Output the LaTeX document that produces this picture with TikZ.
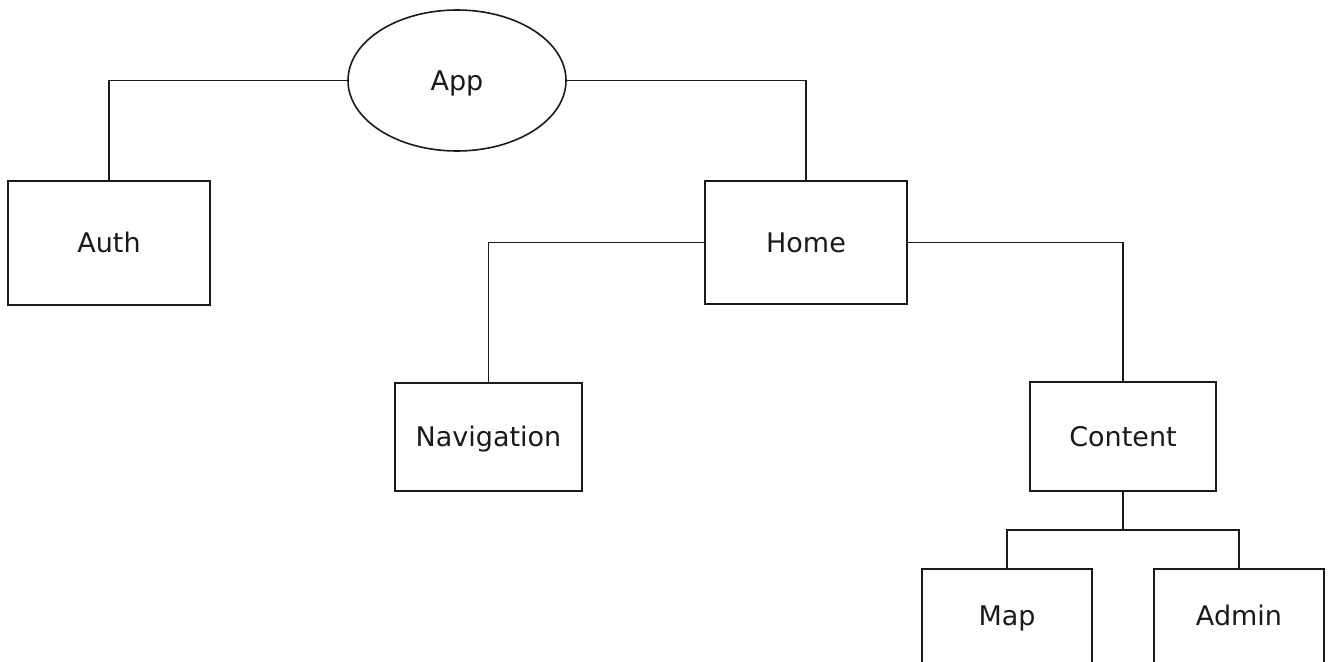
\documentclass[tikz,border=0pt]{standalone}
\usepackage{fontspec}
\setmainfont{DejaVu Sans}
\usetikzlibrary{shapes.geometric}
\definecolor{ink}{HTML}{1A1A1A}
\tikzset{
  lbl/.style={text=ink, font=\fontsize{27}{32}\selectfont, text height=19.7pt, text depth=0pt},
  box/.style={draw=ink, line width=1.6pt, rectangle, inner sep=0pt, lbl},
  oval/.style={draw=ink, line width=1.6pt, ellipse, inner sep=0pt, lbl},
  link/.style={draw=ink, line width=1.6pt}
}
\begin{document}
\begin{tikzpicture}[x=1pt,y=-1pt]
\useasboundingbox (0,0) rectangle (1330,661);
\clip (0,0) rectangle (1330,661);
\fill[white] (0,0) rectangle (1330,661);
\node[oval, minimum width=218pt, minimum height=141pt] (app) at (457,80.5) {App};
\node[box, minimum width=202pt, minimum height=124pt] (auth) at (109,243) {Auth};
\node[box, minimum width=202pt, minimum height=123pt] (home) at (806,242.5) {Home};
\node[box, minimum width=187pt, minimum height=108pt] (nav) at (488.5,437) {Navigation};
\node[box, minimum width=186pt, minimum height=109pt] (content) at (1123,436.5) {Content};
\node[box, minimum width=170pt, minimum height=131pt] (map) at (1007,634.5) {};
\node[box, minimum width=170pt, minimum height=131pt] (admin) at (1239,634.5) {};
\node[lbl, inner sep=0pt, anchor=base] (maplabel) at (1007,625) {Map};
\node[lbl, inner sep=0pt, anchor=base] (adminlabel) at (1239,625) {Admin};
\coordinate (split) at (1123,530);
\draw[link] (app.west) -| (auth.north);
\draw[link] (app.east) -| (home.north);
\draw[link] (home.west) -| (nav.north);
\draw[link] (home.east) -| (content.north);
\draw[link] (content.south) -- (split) -| (map.north);
\draw[link] (split) -| (admin.north);
\end{tikzpicture}
\end{document}
